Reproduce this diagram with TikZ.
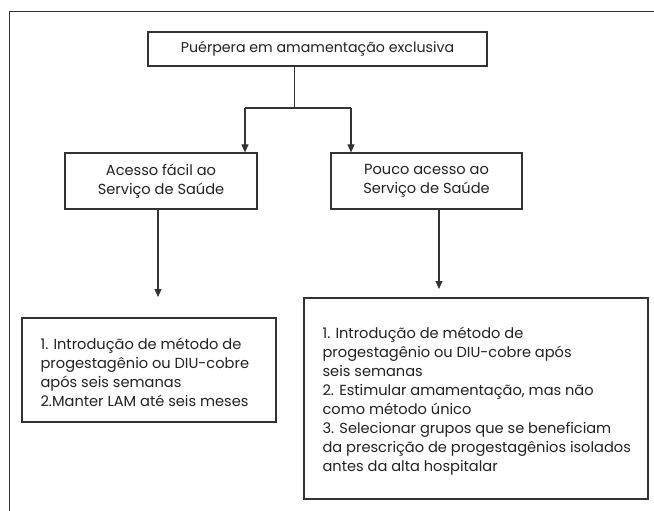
\documentclass[tikz,border=0pt]{standalone}
\usepackage{fontspec}
\setmainfont{Poppins}
\usetikzlibrary{arrows.meta}
\definecolor{ln}{HTML}{333333}
\definecolor{tx}{HTML}{222222}
\begin{document}
\begin{tikzpicture}[x=1pt,y=-1pt,
  box/.style={draw=ln, line width=1.2pt, rectangle, inner sep=0pt, text=tx, align=center},
  txt/.style={inner sep=0pt, text=tx, align=left, anchor=west},
  conn/.style={draw=ln, line width=1.1pt},
  arr/.style={conn, -{Triangle[length=8pt,width=7pt]}},
  every node/.style={font=\fontsize{14.6}{19}\selectfont}]
\useasboundingbox (0,0) rectangle (654,511);
% frame
\coordinate (f0) at (9.5,511);
\coordinate (f1) at (9.5,11.5);
\coordinate (f2) at (654,11.5);
\draw[draw=ln, line width=1.2pt] (f0) -- (f1) -- (f2);
% boxes
\node[box, minimum width=339pt, minimum height=34pt, font=\fontsize{14.2}{19}\selectfont] (top) at (317.5,49) {Puérpera em amamentação exclusiva};
\node[box, minimum width=192pt, minimum height=56pt] (lm) at (161,181) {Acesso fácil ao\\Serviço de Saúde};
\node[box, minimum width=191pt, minimum height=56pt] (rm) at (426.5,181) {Pouco acesso ao\\Serviço de Saúde};
\node[box, minimum width=254pt, minimum height=104pt] (lb) at (149,370) {};
\node[box, minimum width=344pt, minimum height=201pt] (rb) at (476,398.5) {};
\node[txt] (lbt) at ([xshift=19pt,yshift=-2pt]lb.west) {1. Introdução de método de\\progestagênio ou DIU-cobre\\após seis semanas\\2.Manter LAM até seis meses};
\node[txt] (rbt) at ([xshift=19pt,yshift=-3pt]rb.west) {1. Introdução de método de\\progestagênio ou DIU-cobre após\\seis semanas\\2. Estimular amamentação, mas não\\como método único\\3. Selecionar grupos que se beneficiam\\da prescrição de progestagênios isolados\\antes da alta hospitalar};
% connectors
\coordinate (bar) at (294.7,108);
\coordinate (barL) at (245,108);
\coordinate (barR) at (351,108);
\coordinate (lend) at (158,297);
\coordinate (rend) at (439,289);
\draw[conn] (top.south -| bar) -- (bar);
\draw[conn] (barL) -- (barR);
\draw[arr] (barL) -- (lm.north -| barL);
\draw[arr] (barR) -- (rm.north -| barR);
\draw[arr] (lm.south -| lend) -- (lend);
\draw[arr] (rm.south -| rend) -- (rend);
\end{tikzpicture}
\end{document}
